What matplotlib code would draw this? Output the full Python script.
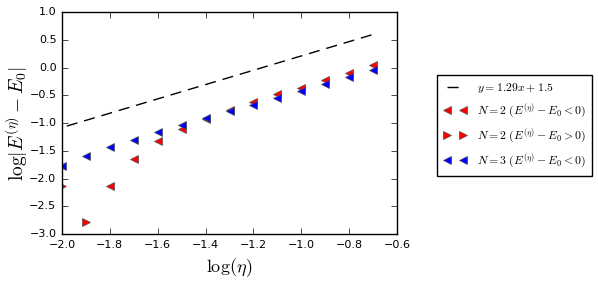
import matplotlib
matplotlib.use("Agg")
import matplotlib.pyplot as plt
import numpy as np

plt.style.use('classic')
plt.rcParams['mathtext.fontset'] = 'cm'

x_left_red = [-1.8, -1.7, -1.6, -1.5, -1.4, -1.3, -1.2, -1.1, -1.0, -0.9, -0.8, -0.7]
y_left_red = [-2.14, -1.64, -1.32, -1.10, -0.92, -0.77, -0.62, -0.48, -0.36, -0.22, -0.09, 0.05]
x_right_red = [-2.0, -1.9]
y_right_red = [-2.14, -2.79]
x_blue = [-2.0, -1.9, -1.8, -1.7, -1.6, -1.5, -1.4, -1.3, -1.2, -1.1, -1.0, -0.9, -0.8, -0.7]
y_blue = [-1.77, -1.60, -1.44, -1.30, -1.16, -1.03, -0.91, -0.79, -0.67, -0.55, -0.42, -0.30, -0.17, -0.05]
fit_slope = 1.29
fit_intercept = 1.5
fit_x = [-1.98, -0.7]

fig = plt.figure(figsize=(5.98, 2.81), dpi=100, facecolor='white')
ax = fig.add_axes([0.1037, 0.167, 0.5602, 0.790])

fx = np.array(fit_x)
ax.plot(fx, fit_slope * fx + fit_intercept, color='k', ls='--', dashes=(8, 5), lw=1,
        label=r'$y=1.29x+1.5$')
ax.plot(x_left_red, y_left_red, '<', color='red', mec='0.3', ms=6, mew=0.5, ls='none',
        label=r'$N=2\;(E^{(\eta)}-E_0<0)$')
ax.plot(x_right_red, y_right_red, '>', color='red', mec='0.3', ms=6, mew=0.5, ls='none',
        label=r'$N=2\;(E^{(\eta)}-E_0>0)$')
ax.plot(x_blue, y_blue, '<', color='blue', mec='0.3', ms=6, mew=0.5, ls='none',
        label=r'$N=3\;(E^{(\eta)}-E_0<0)$')

ax.set_xlim(-2.0, -0.6)
ax.set_ylim(-3.0, 1.0)
ax.set_xticks(np.arange(-2.0, -0.59, 0.2))
ax.set_yticks(np.arange(-3.0, 1.01, 0.5))
ax.tick_params(labelsize=8)
ax.set_xlabel(r'$\log(\eta)$', fontsize=13)
ax.set_ylabel(r'$\log|E^{(\eta)}-E_0|$', fontsize=14)
ax.yaxis.set_label_coords(-0.095, 0.5)

ax.legend(loc='center left', bbox_to_anchor=(1.12, 0.49), numpoints=2, fontsize=8.5,
          markerscale=0.85, handlelength=2.0, handletextpad=0.9, fancybox=False,
          frameon=True, borderpad=0.5, labelspacing=0.55, borderaxespad=0.0)

fig.savefig('out.png', dpi=100, facecolor='white')
